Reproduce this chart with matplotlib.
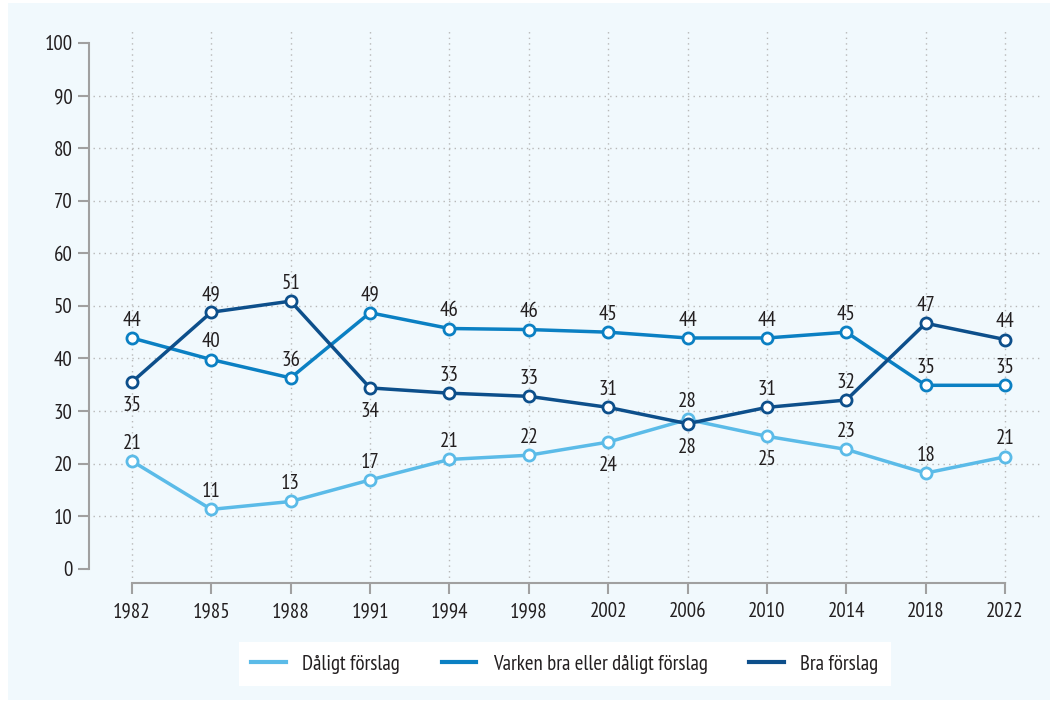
import matplotlib
matplotlib.use("Agg")
import matplotlib.pyplot as plt
from matplotlib.patches import Rectangle
from matplotlib.lines import Line2D

years = ["1982", "1985", "1988", "1991", "1994", "1998", "2002", "2006", "2010", "2014", "2018", "2022"]
daligt = [20.5, 11.3, 12.8, 16.9, 20.8, 21.6, 24.1, 28.4, 25.2, 22.7, 18.2, 21.3]
varken = [43.9, 39.8, 36.3, 48.7, 45.7, 45.5, 45.0, 43.9, 43.9, 45.0, 34.9, 34.9]
bra = [35.5, 48.8, 50.9, 34.4, 33.4, 32.8, 30.7, 27.6, 30.7, 32.1, 46.7, 43.6]

daligt_lbl = [21, 11, 13, 17, 21, 22, 24, 28, 25, 23, 18, 21]
varken_lbl = [44, 40, 36, 49, 46, 46, 45, 44, 44, 45, 35, 35]
bra_lbl = [35, 49, 51, 34, 33, 33, 31, 28, 31, 32, 47, 44]

# label placement: True = below the point
daligt_below = [False, False, False, False, False, False, True, False, True, False, False, False]
varken_below = [False] * 12
bra_below = [True, False, False, True, False, False, False, True, False, False, False, False]

names = ["Dåligt förslag", "Varken bra eller dåligt förslag", "Bra förslag"]
colors = ["#5bbbe8", "#0b80c3", "#0d4f8b"]

plt.rcParams['font.family'] = ['PT Sans Narrow', 'DejaVu Sans']
bg = "#f1f9fd"
txt = "#231f20"
fs = 15

fig = plt.figure(figsize=(10.58, 7.03), dpi=100, facecolor="white")
fig.patches.append(Rectangle((8/1058, 3/703), 1042/1058, 697/703, transform=fig.transFigure,
                             facecolor=bg, edgecolor="none", zorder=-10))
ax = fig.add_axes([89/1058, 1 - 583/703, (1040 - 89)/1058, (583 - 29)/703])
ax.set_zorder(1)
ax.set_facecolor(bg)

x = list(range(len(years)))
ax.set_xlim(-0.54, 11.44)
ax.set_ylim(-2.7, 102.66)

# grid
ax.hlines(range(10, 100, 10), -0.49, 11.44, colors="#b8b8b8", linestyles=(0, (1, 3)), linewidth=1, zorder=1)
ax.vlines(x, -2.7, 102.66, colors="#b8b8b8", linestyles=(0, (1, 3)), linewidth=1, zorder=1)

series = [(daligt, daligt_lbl, daligt_below), (varken, varken_lbl, varken_below), (bra, bra_lbl, bra_below)]
for (vals, lbls, below), name, c in zip(series, names, colors):
    ax.plot(x, vals, color=c, linewidth=2.5, marker="o", markersize=8, markerfacecolor="white",
            markeredgecolor=c, markeredgewidth=2, label=name, zorder=3)
    for xi, v, l, b in zip(x, vals, lbls, below):
        ax.annotate(str(l), (xi, v), xytext=(0, -10 if b else 6), textcoords="offset points",
                    ha="center", va="top" if b else "bottom", fontsize=fs, color=txt, zorder=4)

for s in ["top", "right"]:
    ax.spines[s].set_visible(False)
ax.spines["left"].set_bounds(0, 100)
ax.spines["bottom"].set_bounds(0, 11)
for s in ["left", "bottom"]:
    ax.spines[s].set_color("#a0a0a0")
    ax.spines[s].set_linewidth(1.5)

ax.set_yticks(range(0, 101, 10))
ax.set_xticks(x)
ax.set_xticklabels(years)
ax.tick_params(axis="both", colors="#a0a0a0", labelcolor=txt, labelsize=fs, width=1.5, length=8)
ax.tick_params(axis="y", pad=4)
ax.tick_params(axis="x", pad=6)

h2 = [Line2D([0], [0], color=c, linewidth=3) for c in colors]
leg = fig.legend(h2, names, loc="center", bbox_to_anchor=(565/1058, 1 - 664/703), ncol=3,
                 frameon=True, fancybox=False, framealpha=1, fontsize=fs, handlelength=1.65,
                 columnspacing=2.0, handletextpad=0.8, borderpad=0.6, borderaxespad=0)
leg.get_frame().set_facecolor("white")
leg.get_frame().set_edgecolor("none")
for t in leg.get_texts():
    t.set_color(txt)

fig.savefig("out.png", dpi=100, facecolor="white")
